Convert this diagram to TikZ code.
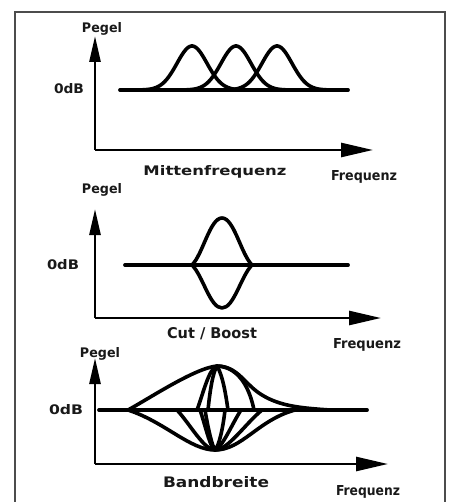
\documentclass[tikz,border=0pt]{standalone}
\usepackage{graphicx}
\usepackage{fontspec}
\setmainfont{DejaVu Sans}
\usetikzlibrary{arrows.meta}
\newcommand\hwtext[3]{\resizebox{#1pt}{#2pt}{\bfseries #3}}
\begin{document}
\begin{tikzpicture}[x=1pt,y=-1pt,
  yax/.style={line width=2.6pt,-{Triangle[length=26pt,width=11pt]}},
  xax/.style={line width=2.6pt,-{Triangle[length=32pt,width=14pt]}},
  curve/.style={line width=3.6pt,line cap=round,line join=round},
  base/.style={line width=3.8pt,line cap=round},
  frame/.style={draw=black!70,line width=1.5pt},
  lbl/.style={inner sep=0pt,text=black!90}]
\useasboundingbox (0,0) rectangle (449,502);
\fill[white] (0,0) rectangle (449,502);
\begin{scope}
  \clip (0,0) rectangle (449,502);
  \draw[frame] (15,12) rectangle (445,530);
\end{scope}

% ---------- Panel 1 : Mittenfrequenz ----------
\coordinate (o1) at (95,150);
\coordinate (y1) at (95,36);
\coordinate (x1) at (373,150);
\coordinate (b1s) at (120,90);
\coordinate (b1e) at (348,90);
\draw[yax] (o1) -- (y1);
\draw[xax] (o1) -- (x1);
\draw[base] (b1s) -- (b1e);
\foreach \c in {192,236,277}{
  \draw[curve] plot[domain=\c-60:\c+60,samples=90]
    (\x,{90-44*exp(-0.5*pow((\x-\c)/15,2))});
}
\node[lbl] (p1) at (102,29) {\hwtext{40}{10}{Pegel}};
\node[lbl] (d1) at (69,89) {\hwtext{30}{10}{0dB}};
\node[lbl] (m1) at (215,172) {\hwtext{143}{10}{Mittenfrequenz}};
\node[lbl] (f1) at (364,177) {\hwtext{66}{10}{Frequenz}};

% ---------- Panel 2 : Cut / Boost ----------
\coordinate (o2) at (95,318);
\coordinate (y2) at (95,209);
\coordinate (x2) at (381,318);
\coordinate (b2s) at (125,265);
\coordinate (b2e) at (348,265);
\coordinate (l2) at (192,265);
\coordinate (r2) at (252,265);
\draw[yax] (o2) -- (y2);
\draw[xax] (o2) -- (x2);
\draw[base] (b2s) -- (b2e);
\draw[curve] (l2) .. controls (203,254) and (210,218) .. (222,218)
  .. controls (234,218) and (241,254) .. (r2);
\draw[curve] (l2) .. controls (203,276) and (210,308) .. (222,308)
  .. controls (234,308) and (241,276) .. (r2);
\node[lbl] (p2) at (102,190) {\hwtext{40}{10}{Pegel}};
\node[lbl] (d2) at (63,265) {\hwtext{32}{10}{0dB}};
\node[lbl] (c2) at (212,334) {\hwtext{90}{11}{Cut / Boost}};
\node[lbl] (f2) at (367,345) {\hwtext{68}{10}{Frequenz}};

% ---------- Panel 3 : Bandbreite ----------
\coordinate (o3) at (95,464);
\coordinate (y3) at (95,358);
\coordinate (x3) at (388,464);
\coordinate (b3s) at (99,410);
\coordinate (b3e) at (367,410);
\coordinate (pk) at (217,366);
\coordinate (bt) at (215,450);
\draw[yax] (o3) -- (y3);
\draw[xax] (o3) -- (x3);
\draw[base] (b3s) -- (b3e);
% boost curves
\draw[curve] (128,410) .. controls (150,398) and (195,368) .. (pk)
  .. controls (238,366) and (245,385) .. (262,395)
  .. controls (280,406) and (300,408) .. (330,410);
\draw[curve] (197,410) .. controls (203,394) and (209,368) .. (pk)
  .. controls (240,367) and (250,390) .. (254,410);
\draw[curve] (208,410) .. controls (210,390) and (213,372) .. (pk)
  .. controls (223,376) and (226,396) .. (228,410);
% cut curves
\draw[curve] (128,410) .. controls (165,422) and (190,450) .. (bt)
  .. controls (242,450) and (258,420) .. (295,410);
\draw[curve] (177,410) .. controls (190,424) and (204,450) .. (bt)
  .. controls (228,450) and (245,424) .. (262,410);
\draw[curve] (200,410) .. controls (205,424) and (210,448) .. (bt)
  .. controls (222,448) and (232,424) .. (241,410);
\draw[curve] (205,410) .. controls (208,428) and (212,446) .. (bt)
  .. controls (219,446) and (223,428) .. (225,410);
\node[lbl] (p3) at (100,354) {\hwtext{40}{10}{Pegel}};
\node[lbl] (d3) at (66,410) {\hwtext{34}{10}{0dB}};
\node[lbl] (w3) at (216,482) {\hwtext{106}{11}{Bandbreite}};
\node[lbl] (f3) at (368,492) {\hwtext{64}{10}{Frequenz}};
\end{tikzpicture}
\end{document}
